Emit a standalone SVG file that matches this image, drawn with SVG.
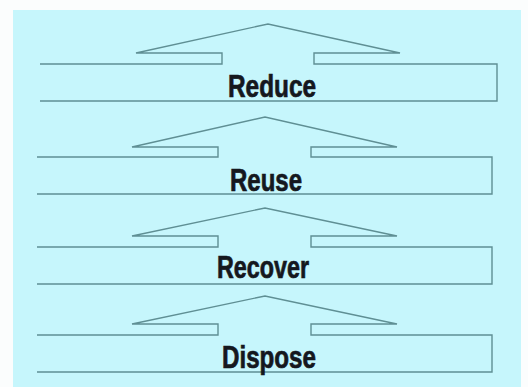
<svg xmlns="http://www.w3.org/2000/svg" width="528" height="387" viewBox="0 0 528 387">
<style>
.bg{fill:#c6f6fc}
.sh{fill:none;stroke:#5f8f94;stroke-width:1.4;stroke-linejoin:miter}
.lb{font-family:"Liberation Sans Narrow","Liberation Sans",Arial,sans-serif;font-weight:bold;font-size:31px;fill:#15181e;stroke:#15181e;stroke-width:0.7;text-anchor:middle}
</style>
<rect x="0" y="0" width="528" height="387" fill="#fbfdfd"/>
<rect class="bg" x="13" y="10" width="508" height="377"/>
<g id="reduce">
<path class="sh" d="M40,64 L222,64 L222,53 L136,53 L268,24 L400,53 L314,53 L314,64 L497,64 L497,101 L40,101"/>
<text class="lb" x="272" y="97" textLength="88" lengthAdjust="spacingAndGlyphs">Reduce</text>
</g>
<g id="reuse">
<path class="sh" d="M37,157 L218,157 L218,147 L132,147 L265,117 L397,147 L311,147 L311,157 L492,157 L492,194 L37,194"/>
<text class="lb" x="266" y="191" textLength="72" lengthAdjust="spacingAndGlyphs">Reuse</text>
</g>
<g id="recover">
<path class="sh" d="M37,247 L218,247 L218,236 L132,236 L265,208 L397,236 L311,236 L311,247 L492,247 L492,284 L37,284"/>
<text class="lb" x="263" y="278" textLength="92" lengthAdjust="spacingAndGlyphs">Recover</text>
</g>
<g id="dispose">
<path class="sh" d="M37,335 L218,335 L218,324 L132,324 L265,296 L397,324 L311,324 L311,335 L492,335 L492,372 L37,372"/>
<text class="lb" x="269" y="368" textLength="94" lengthAdjust="spacingAndGlyphs">Dispose</text>
</g>
<g id="connectors"></g>
</svg>
